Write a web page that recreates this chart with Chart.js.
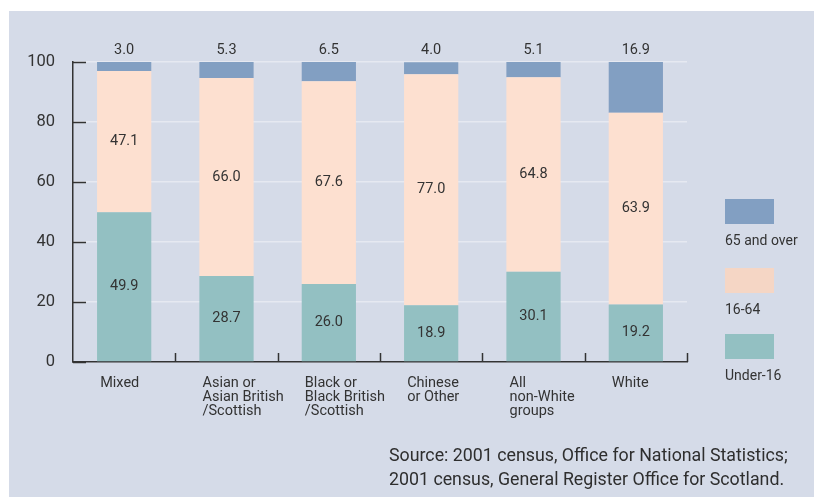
<!DOCTYPE html>
<html>
<head>
<meta charset="utf-8">
<script src="https://cdn.jsdelivr.net/npm/chart.js@4"></script>
<style>
  html, body { margin: 0; padding: 0; background: #fff; }
  #panel { position: absolute; left: 9px; top: 11px; width: 805px; height: 486px; background: #d5dbe8; }
  #wrap { position: absolute; left: 0; top: 0; width: 814px; height: 497px; }
  #source { position: absolute; left: 389px; top: 443px; font: 17.8px Roboto, sans-serif; color: #2e2e2e; line-height: 24px; }
</style>
</head>
<body>
<div id="panel"></div>
<div id="wrap"><canvas id="chart" width="814" height="497"></canvas></div>
<div id="source">Source: 2001 census, Office for National Statistics;<br>2001 census, General Register Office for Scotland.</div>
<script>
"use strict";

// categories and values
const categories = [
  "Mixed",
  ["Asian or", "Asian British", "/Scottish"],
  ["Black or", "Black British", "/Scottish"],
  ["Chinese", "or Other"],
  ["All", "non-White", "groups"],
  "White"
];
const under16 = [49.9, 28.7, 26.0, 18.9, 30.1, 19.2];
const age16to64 = [47.1, 66.0, 67.6, 77.0, 64.8, 63.9];
const over65 = [3.0, 5.3, 6.5, 4.0, 5.1, 16.9];
const seriesNames = ["Under-16", "16-64", "65 and over"];
const yTicks = [0, 20, 40, 60, 80, 100];

const colors = ["#93c0c2", "#fde0d0", "#829fc2"];
const legendColors = ["#93c0c2", "#f5d6c5", "#829fc2"];
const ink = "#333333";

// value labels, small axis ticks and the legend drawn on the canvas
const extras = {
  id: "extras",
  afterDatasetsDraw(chart) {
    const ctx = chart.ctx;
    const area = chart.chartArea;
    const ys = chart.scales.y;
    ctx.save();

    // dark tick stubs on the y axis
    ctx.strokeStyle = ink;
    ctx.lineWidth = 1.5;
    yTicks.forEach(v => {
      const y = Math.round(ys.getPixelForValue(v)) + 0.5;
      ctx.beginPath();
      ctx.moveTo(area.left, y);
      ctx.lineTo(area.left + 13, y);
      ctx.stroke();
    });
    // tick stubs between categories
    const step = (area.right - area.left) / categories.length;
    for (let i = 1; i <= categories.length; i++) {
      const x = Math.round(area.left + step * i) + 0.5;
      ctx.beginPath();
      ctx.moveTo(x, area.bottom);
      ctx.lineTo(x, area.bottom - 9);
      ctx.stroke();
    }

    // value labels
    ctx.fillStyle = ink;
    ctx.font = "14.5px Roboto, sans-serif";
    ctx.textAlign = "center";
    ctx.textBaseline = "middle";
    chart.data.datasets.forEach((ds, di) => {
      chart.getDatasetMeta(di).data.forEach((bar, i) => {
        const txt = ds.data[i].toFixed(1);
        if (di === 2) {
          ctx.fillText(txt, bar.x, area.top - 12);
        } else {
          ctx.fillText(txt, bar.x, (bar.y + bar.base) / 2);
        }
      });
    });

    // legend on the right
    const legendItems = [
      { name: seriesNames[2], color: legendColors[2], top: 199 },
      { name: seriesNames[1], color: legendColors[1], top: 268 },
      { name: seriesNames[0], color: legendColors[0], top: 334 }
    ];
    ctx.textAlign = "left";
    ctx.font = "14px Roboto, sans-serif";
    legendItems.forEach(it => {
      ctx.fillStyle = it.color;
      ctx.fillRect(725, it.top, 49, 25);
      ctx.fillStyle = ink;
      ctx.fillText(it.name, 725, it.top + 42);
    });
    ctx.restore();
  }
};

new Chart(document.getElementById("chart"), {
  type: "bar",
  data: {
    labels: categories,
    datasets: [
      { label: seriesNames[0], data: under16, backgroundColor: colors[0] },
      { label: seriesNames[1], data: age16to64, backgroundColor: colors[1] },
      { label: seriesNames[2], data: over65, backgroundColor: colors[2] }
    ]
  },
  options: {
    responsive: false,
    animation: false,
    events: [],
    barPercentage: 0.53,
    categoryPercentage: 1,
    layout: { padding: { left: 3, top: 62, right: 127, bottom: 0 } },
    plugins: { legend: { display: false }, tooltip: { enabled: false } },
    scales: {
      x: {
        stacked: true,
        afterFit(scale) { scale.height = 135; },
        grid: { display: false, drawTicks: false },
        border: { display: true, color: ink, width: 1.5 },
        ticks: {
          align: "start",
          labelOffset: -24,
          padding: 14,
          color: ink,
          font: { family: "Roboto", size: 14.5, lineHeight: 0.97 }
        }
      },
      y: {
        stacked: true,
        min: 0,
        max: 100,
        afterFit(scale) { scale.width = 70; },
        afterBuildTicks(scale) { scale.ticks = yTicks.map(v => ({ value: v })); },
        grid: { color: "#e6e9f1", lineWidth: 1.5, drawTicks: false },
        border: { display: true, color: ink, width: 1.5 },
        ticks: {
          padding: 18,
          color: ink,
          font: { family: "Roboto", size: 16.5 }
        }
      }
    }
  },
  plugins: [extras]
});
</script>
</body>
</html>
